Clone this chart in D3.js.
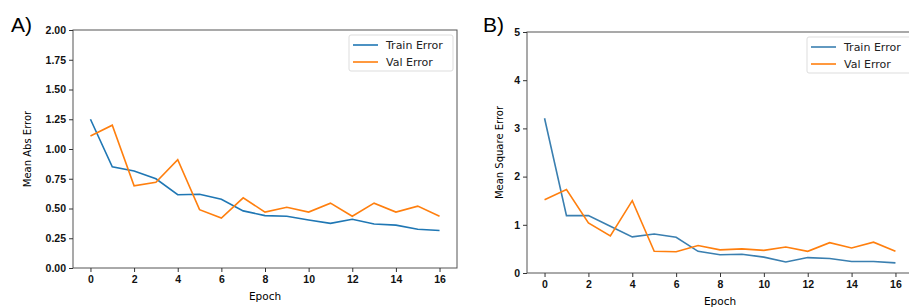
<!DOCTYPE html>
<html>
<head>
<meta charset="utf-8">
<script src="https://cdn.jsdelivr.net/npm/d3@7"></script>
<style>
  body { margin: 0; background: #fff; }
  svg { display: block; font-family: 'DejaVu Sans', sans-serif; }
  .tick text { font-weight: bold; }
</style>
</head>
<body>
<div id="chart"></div>
<script>
var epochs = d3.range(0, 17);
var maeTrain = [1.25, 0.85, 0.815, 0.75, 0.616, 0.62, 0.577, 0.48, 0.44, 0.435, 0.403, 0.375, 0.41, 0.37, 0.36, 0.325, 0.315];
var maeVal = [1.11, 1.2, 0.69, 0.72, 0.91, 0.49, 0.42, 0.59, 0.47, 0.51, 0.47, 0.545, 0.435, 0.545, 0.47, 0.52, 0.435];
var mseTrain = [3.21, 1.19, 1.19, 0.97, 0.75, 0.81, 0.74, 0.45, 0.38, 0.39, 0.33, 0.23, 0.32, 0.30, 0.24, 0.24, 0.21];
var mseVal = [1.52, 1.73, 1.04, 0.77, 1.5, 0.45, 0.44, 0.57, 0.48, 0.5, 0.47, 0.54, 0.45, 0.63, 0.52, 0.64, 0.45];
var xTicks = [0, 2, 4, 6, 8, 10, 12, 14, 16];
var maeTicks = [0, 0.25, 0.5, 0.75, 1.0, 1.25, 1.5, 1.75, 2.0];
var mseTicks = [0, 1, 2, 3, 4, 5];
var legendLabels = ['Train Error', 'Val Error'];

var svg = d3.select('#chart').append('svg')
    .attr('width', 909)
    .attr('height', 307);

function panel(opts) {
    var x = d3.scaleLinear().domain([-0.8, 16.8]).range([opts.left, opts.right]);
    var y = d3.scaleLinear().domain(opts.yDomain).range([opts.bottom, opts.top]);
    var g = svg.append('g');

    var line = d3.line()
        .x((d, i) => x(epochs[i]))
        .y(d => y(d));

    g.append('path').datum(opts.train)
        .attr('fill', 'none').attr('stroke', opts.blue).attr('stroke-width', 1.6)
        .attr('d', line);
    g.append('path').datum(opts.val)
        .attr('fill', 'none').attr('stroke', '#ff7f0e').attr('stroke-width', 1.6)
        .attr('d', line);

    // frame
    g.append('rect')
        .attr('x', opts.left).attr('y', opts.top)
        .attr('width', opts.right - opts.left).attr('height', opts.bottom - opts.top)
        .attr('fill', 'none').attr('stroke', '#555').attr('stroke-width', 1);

    var xAxis = d3.axisBottom(x).tickValues(xTicks).tickSize(4).tickPadding(4);
    var yAxis = d3.axisLeft(y).tickValues(opts.yTicks).tickSize(4).tickPadding(3)
        .tickFormat(opts.fmt);

    g.append('g').attr('transform', 'translate(0,' + opts.bottom + ')').call(xAxis)
        .call(s => s.select('.domain').remove());
    g.append('g').attr('transform', 'translate(' + opts.left + ',0)').call(yAxis)
        .call(s => s.select('.domain').remove());
    g.selectAll('.tick text').attr('font-size', 10.5).attr('fill', '#111');
    g.selectAll('.tick line').attr('stroke', '#333');

    g.append('text')
        .attr('x', (opts.left + opts.right) / 2)
        .attr('y', opts.bottom + 32)
        .attr('text-anchor', 'middle')
        .attr('font-size', 10.5)
        .text('Epoch');

    g.append('text')
        .attr('transform', 'rotate(-90)')
        .attr('x', -(opts.top + opts.bottom) / 2)
        .attr('y', opts.left - opts.labelGap)
        .attr('text-anchor', 'middle')
        .attr('font-size', 10)
        .text(opts.yLabel);

    g.append('text')
        .attr('x', opts.tagX).attr('y', 32)
        .attr('font-size', 21)
        .attr('font-family', 'Liberation Sans, sans-serif')
        .text(opts.tag);

    // legend
    var lg = g.append('g').attr('transform', 'translate(' + opts.legX + ',' + opts.legY + ')');
    lg.append('rect')
        .attr('width', 104).attr('height', 36).attr('rx', 2)
        .attr('fill', '#fff').attr('stroke', '#ddd');
    [opts.blue, '#ff7f0e'].forEach(function (c, i) {
        lg.append('line')
            .attr('x1', 4).attr('x2', 29)
            .attr('y1', 10 + i * 17).attr('y2', 10 + i * 17)
            .attr('stroke', c).attr('stroke-width', 1.6);
        lg.append('text')
            .attr('x', 37).attr('y', 14 + i * 17)
            .attr('font-size', 11)
            .attr('fill', '#222')
            .text(legendLabels[i]);
    });
}

panel({
    left: 73, right: 457, top: 30, bottom: 268,
    yDomain: [0, 2], yTicks: maeTicks, fmt: d3.format('.2f'),
    train: maeTrain, val: maeVal, blue: '#1f77b4',
    yLabel: 'Mean Abs Error', labelGap: 42,
    tag: 'A)', tagX: 11,
    legX: 349, legY: 35
});

panel({
    left: 527, right: 913, top: 32, bottom: 273,
    yDomain: [0, 5], yTicks: mseTicks, fmt: d3.format('d'),
    train: mseTrain, val: mseVal, blue: '#3a7fb0',
    yLabel: 'Mean Square Error', labelGap: 24,
    tag: 'B)', tagX: 483,
    legX: 807, legY: 37
});
</script>
</body>
</html>
